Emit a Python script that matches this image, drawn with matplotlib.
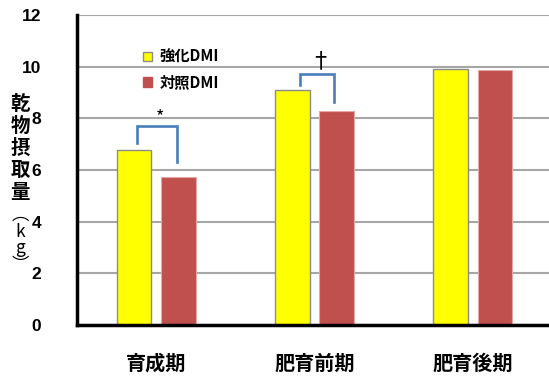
import matplotlib.pyplot as plt
import numpy as np
from matplotlib.patches import Patch

# 乾物摂取量 (kg) by period
periods = ["育成期", "肥育前期", "肥育後期"]
enhanced_dmi = [6.77, 9.10, 9.91]
control_dmi = [5.73, 8.28, 9.87]
series_names = ["強化DMI", "対照DMI"]
sig_marks = ["*", "†", None]

YELLOW = "#ffff00"
RED = "#c0504d"
BRACKET = "#4a7ebb"
CJK = ["Noto Sans CJK JP", "DejaVu Sans"]
LATIN = ["Liberation Sans", "DejaVu Sans"]

fig = plt.figure(figsize=(5.49, 3.78), dpi=100)
ax = fig.add_axes([77 / 549, 53 / 378, 475 / 549, 310 / 378])

x = np.arange(len(periods))
w = 0.22
off = 0.14
ax.bar(x - off, enhanced_dmi, w, color=YELLOW, edgecolor="#8c8c8c", linewidth=1.0, zorder=3)
ax.bar(x + off, control_dmi, w, color=RED, edgecolor="#e6a8a6", linewidth=0.8, zorder=3)

# significance brackets over the first two periods
bracket_cfg = {
    0: dict(dl=0.28, dr=0.58, rise=0.65, xl=0.12, xr=0.13, mark_y=8.05, size=13),
    1: dict(dl=0.19, dr=0.35, rise=0.43, xl=0.093, xr=0.121, mark_y=10.2, size=16),
}
for i, mark in enumerate(sig_marks):
    if mark is None:
        continue
    c = bracket_cfg[i]
    y_l = enhanced_dmi[i] + c["dl"]
    y_r = control_dmi[i] + c["dr"]
    top = max(y_l, y_r) + c["rise"]
    xl, xr = x[i] - c["xl"], x[i] + c["xr"]
    ax.plot([xl, xl, xr, xr], [y_l, top, top, y_r], color=BRACKET, lw=1.9,
            solid_joinstyle="miter", zorder=4)
    ax.text((xl + xr) / 2 + 0.02, c["mark_y"], mark, ha="center", va="center",
            fontsize=c["size"], family=CJK, zorder=4)

ax.set_xlim(-0.5, 2.5)
ax.set_ylim(0, 12)
ax.set_yticks(range(0, 13, 2))
ax.yaxis.grid(True, color="#a6a6a6", lw=1.5, zorder=0)
ax.set_axisbelow(True)
ax.tick_params(axis="y", length=0, pad=26)
ax.tick_params(axis="x", length=0, pad=20)
for lab in ax.get_yticklabels():
    lab.set_family(LATIN)
    lab.set_fontweight("bold")
    lab.set_fontsize(12.5)
ax.set_xticks(x)
ax.set_xticklabels(periods, family=CJK, fontweight="bold", fontsize=14.5)

for side in ("top", "right"):
    ax.spines[side].set_visible(False)
for side in ("left", "bottom"):
    ax.spines[side].set_linewidth(2.5)
    ax.spines[side].set_zorder(5)

# vertical y-axis title, one character per line
title_x = 20 / 549
for k, ch in enumerate("乾物摂取量"):
    fig.text(title_x, 1 - (104 + 22 * k) / 378, ch, ha="center", va="center",
             family=CJK, fontweight="bold", fontsize=14)
fig.text(title_x, 1 - 240 / 378, "\n".join("︵kg︶"), ha="center", va="center",
         family=CJK, fontsize=12.5, linespacing=0.9)

handles = [Patch(facecolor=YELLOW, edgecolor="#8c8c8c"), Patch(facecolor=RED, edgecolor=RED)]
ax.legend(handles, series_names, loc="upper left", bbox_to_anchor=(0.109, 0.935),
          frameon=False, prop={"family": CJK, "weight": "bold", "size": 11},
          handlelength=0.6, handleheight=0.6, handletextpad=0.5, labelspacing=0.62)

fig.savefig("out.png", dpi=100)
